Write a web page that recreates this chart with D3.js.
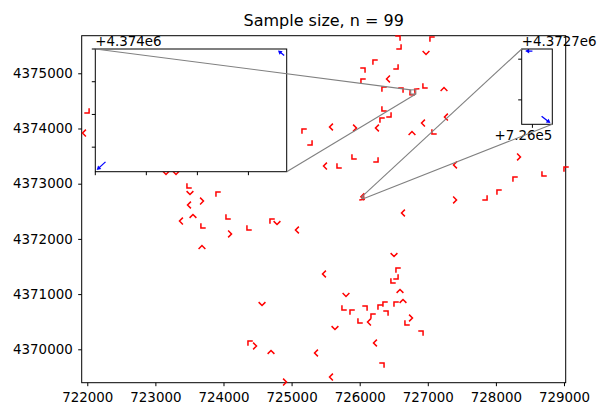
<!DOCTYPE html>
<html>
<head>
<meta charset="utf-8">
<script src="https://cdn.jsdelivr.net/npm/d3@7"></script>
<style>
  body { margin: 0; background: #fff; }
  svg text { font-family: "DejaVu Sans", sans-serif; fill: #000; }
</style>
</head>
<body>
<svg id="chart" width="599" height="404"></svg>
<script>
// arrow tails (easting, northing in m) and directions
var xs = [726577, 727047, 726592, 726974, 726210, 726548, 726063, 726416, 726034, 726342,
          726621, 726944, 727238, 726342, 726445, 726313, 726254, 726930, 727267, 726768,
          727076, 725168, 725579, 725931, 725285, 725902, 726254, 725491, 725682, 727400,
          727400, 727855, 728031, 728266, 728339, 726636, 728692, 729015, 722011, 721952,
          723156, 723303, 723479, 723508, 723905, 723494, 723684, 723552, 723376, 723684,
          724052, 724096, 724360, 724698, 724786, 725079, 723684, 725476, 724566, 725755,
          725637, 724375, 724463, 724698, 725359, 725579, 724903, 726504, 726548, 726548,
          726474, 726592, 726636, 726519, 726401, 725799, 725873, 726093, 726284, 726357,
          726181, 725990, 726137, 726753, 726680, 726915, 726225, 726342,
          726824, 726754, 726040, 726046];
var ys = [4375657, 4375639, 4375458, 4375368, 4375223, 4375096, 4375078, 4374897, 4374878, 4374734,
          4374715, 4374752, 4374715, 4374335, 4374226, 4374172, 4374009, 4374099, 4374208, 4373918,
          4373918, 4373973, 4374027, 4374009, 4373719, 4373465, 4373411, 4373320, 4373302, 4373339,
          4372705, 4372723, 4372868, 4373103, 4373484, 4372469, 4373157, 4373284, 4374299, 4373918,
          4373194, 4373194, 4372940, 4372831, 4372831, 4372614, 4372686, 4372415, 4372324, 4372215,
          4372378, 4372089, 4372179, 4372342, 4372288, 4372161, 4371853, 4371364, 4370820, 4370730,
          4370386, 4370132, 4370060, 4369951, 4369933, 4369498, 4369407, 4371708, 4371455, 4371291,
          4371219, 4371056, 4370875, 4370839, 4370676, 4370984, 4370694, 4370766, 4370784, 4370839,
          4370621, 4370494, 4370494, 4370567, 4370458, 4370313, 4370114, 4369734,
          4374696, 4374631, 4372764, 4372732];
var us = [1, -1, 1, 0, -1, 1, 1, -1, -1, -1,
          1, -1, 0, -1, 1, -1, -1, -1, -1, 0,
          -1, -1, -1, 1, 1, -1, 1, -1, -1, -1,
          1, 1, -1, -1, 1, -1, -1, -1, 1, -1,
          0, 0, -1, 0, -1, -1, 1, 0, -1, -1,
          -1, 1, -1, -1, 0, -1, 0, -1, 0, -1,
          0, -1, 1, 0, -1, -1, 1, 0, -1, 1,
          -1, 0, 0, -1, 1, 0, -1, 1, -1, -1,
          -1, -1, -1, 1, -1, 1, -1, 1,
          -0.77, -1.1, -0.9, 1.1];
var vs = [1, 1, -1, -1, 1, -1, 1, 0, 1, 1,
          1, -1, 1, -1, -1, 1, 0, 0, 0, 1,
          -1, 1, 0, 0, -1, -1, -1, 0, -1, 0,
          0, -1, 1, 1, 0, 0, -1, 1, -1, 0,
          -1, -1, -1, -1, 1, 0, 0, 1, 0, -1,
          -1, 0, -1, 1, -1, 0, 1, 0, -1, -1,
          -1, 1, 0, 1, 0, 0, 0, -1, 1, -1,
          -1, 1, 1, 1, 1, -1, 1, 1, 1, 1,
          1, -1, 0, 0, -1, 1, 0, 1,
          0.64, -1.0, 0, -0.86];

var xTicks = [722000, 723000, 724000, 725000, 726000, 727000, 728000, 729000];
var yTicks = [4370000, 4371000, 4372000, 4373000, 4374000, 4375000];

// zoomed windows
var zoom1X = [726750, 726825], zoom1Y = [4374625, 4374700];
var zoom1XTicks = [726750, 726770, 726790, 726810];
var zoom1YTicks = [4374640, 4374660, 4374680, 4374700];
var zoom2X = [726033, 726053], zoom2Y = [4372728, 4372765];
var zoom2XTicks = [726040];
var zoom2YTicks = [4372740, 4372760];

var svg = d3.select('#chart');
var fmt = d3.format('d');

var x = d3.scaleLinear().domain([721918, 729025]).range([81.7, 565.7]);
var y = d3.scaleLinear().domain([4369395, 4375681]).range([382.7, 35.7]);

svg.append('text')
    .attr('x', 323.7).attr('y', 26)
    .attr('text-anchor', 'middle')
    .style('font-size', '16px')
    .text('Sample size, n = 99');

svg.append('g')
    .attr('transform', 'translate(0,382.7)')
    .call(d3.axisBottom(x).tickValues(xTicks).tickFormat(fmt).tickSize(3.5).tickPadding(5.8).tickSizeOuter(0))
    .call(styleAxis);

svg.append('g')
    .attr('transform', 'translate(81.7,0)')
    .call(d3.axisLeft(y).tickValues(yTicks).tickFormat(fmt).tickSize(3.5).tickPadding(5.5).tickSizeOuter(0))
    .call(styleAxis);

function styleAxis(g) {
    g.select('.domain').remove();
    g.selectAll('line').attr('stroke', '#000').attr('stroke-width', 1);
    g.selectAll('text').style('font-size', '13.4px').attr('font-family', null);
}

svg.append('rect')
    .attr('x', 81.7).attr('y', 35.7)
    .attr('width', 484).attr('height', 347)
    .attr('fill', 'none').attr('stroke', '#000').attr('stroke-width', 1);

var idx = d3.range(xs.length);

// red arrow heads in the main view
function chevron(px, py, u, v, arm) {
    var len = Math.sqrt(u * u + v * v);
    var dx = u / len, dy = -v / len;
    var tx = px + dx * 1.5, ty = py + dy * 1.5;
    var c = Math.SQRT1_2;
    var a1x = tx - arm * (dx * c - dy * c), a1y = ty - arm * (dx * c + dy * c);
    var a2x = tx - arm * (dx * c + dy * c), a2y = ty - arm * (-dx * c + dy * c);
    return 'M' + a1x + ',' + a1y + 'L' + tx + ',' + ty + 'L' + a2x + ',' + a2y;
}

svg.append('g').selectAll('path')
    .data(idx).enter()
    .append('path')
    .attr('d', function (i) { return chevron(x(xs[i]), y(ys[i]), us[i], vs[i], 4.8); })
    .attr('fill', 'none')
    .attr('stroke', '#ff0000')
    .attr('stroke-width', 1.5);

// indicator rectangles
function indicator(zx, zy) {
    svg.append('rect')
        .attr('x', x(zx[0])).attr('y', y(zy[1]))
        .attr('width', x(zx[1]) - x(zx[0]))
        .attr('height', y(zy[0]) - y(zy[1]))
        .attr('fill', 'none').attr('stroke', '#808080').attr('stroke-width', 1);
}
indicator(zoom1X, zoom1Y);
indicator(zoom2X, zoom2Y);

function inset(name, box, zx, zy, xt, yt, yOffset, xOffset) {
    var ix = d3.scaleLinear().domain(zx).range([box[0], box[2]]);
    var iy = d3.scaleLinear().domain(zy).range([box[3], box[1]]);
    var g = svg.append('g');
    g.append('clipPath').attr('id', name)
        .append('rect')
        .attr('x', box[0]).attr('y', box[1])
        .attr('width', box[2] - box[0]).attr('height', box[3] - box[1]);
    g.append('rect')
        .attr('x', box[0]).attr('y', box[1])
        .attr('width', box[2] - box[0]).attr('height', box[3] - box[1])
        .attr('fill', '#fff');

    var inside = idx.filter(function (i) {
        return xs[i] >= zx[0] - 5 && xs[i] <= zx[1] + 5 && ys[i] >= zy[0] - 5 && ys[i] <= zy[1] + 5;
    });
    var arrows = g.append('g').attr('clip-path', 'url(#' + name + ')')
        .selectAll('g').data(inside).enter().append('g');
    arrows.append('path')
        .attr('d', function (i) {
            var px = ix(xs[i]), py = iy(ys[i]);
            var len = Math.sqrt(us[i] * us[i] + vs[i] * vs[i]);
            var dx = us[i] / len, dy = -vs[i] / len, L = 8 * len;
            return 'M' + px + ',' + py + 'L' + (px + dx * (L - 3)) + ',' + (py + dy * (L - 3));
        })
        .attr('stroke', '#0000ff').attr('stroke-width', 1.3);
    arrows.append('path')
        .attr('d', function (i) {
            var px = ix(xs[i]), py = iy(ys[i]);
            var len = Math.sqrt(us[i] * us[i] + vs[i] * vs[i]);
            var dx = us[i] / len, dy = -vs[i] / len, L = 8 * len;
            var tx = px + dx * L, ty = py + dy * L;
            var bx = tx - dx * 4, by = ty - dy * 4;
            return 'M' + tx + ',' + ty + 'L' + (bx - dy * 2.4) + ',' + (by + dx * 2.4) +
                'L' + (bx + dy * 2.4) + ',' + (by - dx * 2.4) + 'Z';
        })
        .attr('fill', '#0000ff');

    g.append('rect')
        .attr('x', box[0]).attr('y', box[1])
        .attr('width', box[2] - box[0]).attr('height', box[3] - box[1])
        .attr('fill', 'none').attr('stroke', '#000').attr('stroke-width', 1);

    g.selectAll('.ytick').data(yt).enter().append('line')
        .attr('x1', box[0] - 3.5).attr('x2', box[0])
        .attr('y1', function (d) { return iy(d); }).attr('y2', function (d) { return iy(d); })
        .attr('stroke', '#000');
    g.selectAll('.xtick').data(xt).enter().append('line')
        .attr('y1', box[3]).attr('y2', box[3] + 3.5)
        .attr('x1', function (d) { return ix(d); }).attr('x2', function (d) { return ix(d); })
        .attr('stroke', '#000');

    g.append('text')
        .attr('x', box[0]).attr('y', box[1] - 3.5)
        .style('font-size', '13.4px')
        .text(yOffset);
    if (xOffset) {
        g.append('text')
            .attr('x', box[2]).attr('y', box[3] + 15.5)
            .attr('text-anchor', 'end')
            .style('font-size', '13.4px')
            .text(xOffset);
    }
}

var box1 = [95.3, 49, 286.7, 171.7];
var box2 = [521.7, 49, 552.3, 124.3];
inset('clip1', box1, zoom1X, zoom1Y, zoom1XTicks, zoom1YTicks, '+4.374e6', null);
inset('clip2', box2, zoom2X, zoom2Y, zoom2XTicks, zoom2YTicks, '+4.3727e6', '+7.26e5');

// connector lines
function connect(box, zx, zy) {
    var lines = [
        [box[0], box[1], x(zx[0]), y(zy[1])],
        [box[2], box[3], x(zx[1]), y(zy[0])]
    ];
    svg.append('g').selectAll('line')
        .data(lines).enter().append('line')
        .attr('x1', function (d) { return d[0]; }).attr('y1', function (d) { return d[1]; })
        .attr('x2', function (d) { return d[2]; }).attr('y2', function (d) { return d[3]; })
        .attr('stroke', '#808080').attr('stroke-width', 1.1);
}
connect(box1, zoom1X, zoom1Y);
connect(box2, zoom2X, zoom2Y);
</script>
</body>
</html>
